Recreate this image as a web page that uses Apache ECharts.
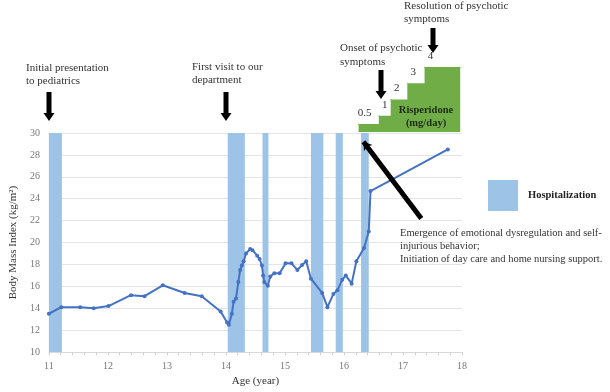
<!DOCTYPE html>
<html>
<head>
<meta charset="utf-8">
<script src="https://cdn.jsdelivr.net/npm/echarts@6/dist/echarts.min.js"></script>
<style>
html, body { margin: 0; padding: 0; background: #fff; }
#main { width: 610px; height: 392px; }
</style>
</head>
<body>
<div id="main"></div>
<script>
// BMI course (age in years, BMI kg/m2)
const ages = [11.0, 11.21, 11.53, 11.76, 12.01, 12.39, 12.62, 12.93, 13.30, 13.59,
  13.91, 14.02, 14.05, 14.10, 14.13, 14.17, 14.21, 14.24, 14.27, 14.30,
  14.34, 14.41, 14.45, 14.53, 14.57, 14.61, 14.63, 14.65, 14.71, 14.75,
  14.82, 14.91, 15.01, 15.11, 15.21, 15.29, 15.36, 15.44, 15.63, 15.72,
  15.82, 15.89, 15.97, 16.03, 16.13, 16.21, 16.34, 16.42, 16.45, 17.76];
const bmi = [13.5, 14.1, 14.1, 14.0, 14.2, 15.2, 15.1, 16.1, 15.4, 15.1,
  13.7, 12.7, 12.5, 13.5, 14.6, 14.9, 16.4, 17.5, 17.9, 18.3,
  19.0, 19.4, 19.3, 18.8, 18.5, 17.9, 17.0, 16.4, 16.05, 16.9,
  17.2, 17.2, 18.1, 18.1, 17.5, 17.95, 18.3, 16.7, 15.4, 14.1,
  15.3, 15.65, 16.6, 17.0, 16.25, 18.3, 19.5, 21.0, 24.7, 28.5];

// hospitalization periods
const hospStart = [11.0, 14.03, 14.62, 15.44, 15.86, 16.29];
const hospEnd = [11.22, 14.32, 14.72, 15.65, 15.98, 16.42];

// risperidone steps
const doseStart = [16.26, 16.6, 16.8, 17.08, 17.37];
const doseMg = [0.5, 1, 2, 3, 4];
const doseStop = 17.97;

// arrow inside the plot (from, to)
const cueFrom = [16.33, 29.2];
const cueTo = [17.31, 22.2];

const xMin = 11, xMax = 18, yMin = 10, yMax = 30;

const FONT = '"Liberation Serif", "Times New Roman", serif';
const BLUE = '#4472c4';
const HOSP = '#9dc3e6';
const GREEN = '#70ad47';

const chart = echarts.init(document.getElementById('main'));

function arrow(x, y0, y1) {
  return {
    type: 'polygon',
    shape: {points: [[x - 2.5, y0], [x + 2.5, y0], [x + 2.5, y1 - 8], [x + 5.5, y1 - 8],
      [x, y1], [x - 5.5, y1 - 8], [x - 2.5, y1 - 8]]},
    style: {fill: '#000'},
    z: 100
  };
}

function note(left, top, text, extra) {
  return {
    type: 'text', left: left, top: top, z: 100,
    style: Object.assign({text: text, font: '11px ' + FONT, fill: '#333', lineHeight: 13}, extra || {})
  };
}

const doseData = doseStart.map((a, i) => [a, doseMg[i]]);
doseData.push([doseStop, doseMg[doseMg.length - 1]]);

const option = {
  animation: false,
  grid: [
    {left: 46, right: 148, top: 133, bottom: 33, containLabel: false},
    {left: 46, right: 148, top: 67, bottom: 260, containLabel: false}
  ],
  legend: {
    data: ['Hospitalization'],
    icon: 'rect',
    left: 483, top: 175,
    itemWidth: 30, itemHeight: 31,
    selectedMode: false,
    textStyle: {fontFamily: FONT, fontWeight: 'bold', fontSize: 10.5, color: '#222', padding: [0, 0, 0, 5]}
  },
  xAxis: [
    {
      type: 'value', min: xMin, max: xMax, interval: 1, gridIndex: 0,
      name: 'Age (year)', nameLocation: 'middle', nameGap: 18,
      nameTextStyle: {fontFamily: FONT, fontSize: 11, color: '#333'},
      axisLine: {show: true, lineStyle: {color: '#d9d9d9'}},
      axisTick: {show: true, length: 3, lineStyle: {color: '#d0d0d0'}},
      minorTick: {show: true, splitNumber: 5, length: 3, lineStyle: {color: '#d0d0d0'}},
      splitLine: {show: false},
      axisLabel: {fontFamily: FONT, fontSize: 10, color: '#777', margin: 9}
    },
    {type: 'value', min: xMin, max: xMax, gridIndex: 1, show: false}
  ],
  yAxis: [
    {
      type: 'value', min: yMin, max: yMax, interval: 2, gridIndex: 0,
      name: 'Body Mass Index (kg/m²)', nameLocation: 'middle', nameGap: 26,
      nameTextStyle: {fontFamily: FONT, fontSize: 11, color: '#333'},
      axisLine: {show: false},
      axisTick: {show: false},
      splitLine: {lineStyle: {color: '#e4e4e4'}},
      axisLabel: {fontFamily: FONT, fontSize: 10, color: '#777', margin: 9}
    },
    {type: 'value', min: 0, max: 4, gridIndex: 1, show: false}
  ],
  series: [
    {
      name: 'Hospitalization',
      type: 'custom',
      xAxisIndex: 0, yAxisIndex: 0,
      data: hospStart.map((s, i) => [s, hospEnd[i]]),
      encode: {x: [0, 1]},
      itemStyle: {color: HOSP},
      silent: true,
      z: 1,
      renderItem: function (params, api) {
        const p0 = api.coord([api.value(0), yMax]);
        const p1 = api.coord([api.value(1), yMin]);
        return {
          type: 'rect',
          shape: {x: p0[0], y: p0[1], width: p1[0] - p0[0], height: p1[1] - p0[1]},
          style: {fill: HOSP}
        };
      }
    },
    {
      name: 'BMI',
      type: 'line',
      xAxisIndex: 0, yAxisIndex: 0,
      data: ages.map((a, i) => [a, bmi[i]]),
      symbol: 'circle', symbolSize: 4,
      lineStyle: {color: BLUE, width: 2},
      itemStyle: {color: BLUE},
      silent: true,
      z: 3,
      markLine: {
        silent: true,
        symbol: ['arrow', 'none'],
        symbolSize: 8,
        lineStyle: {color: '#000', width: 5, type: 'solid'},
        label: {show: false},
        data: [[{coord: cueFrom}, {coord: cueTo}]]
      }
    },
    {
      name: 'Risperidone',
      type: 'line',
      xAxisIndex: 1, yAxisIndex: 1,
      step: 'end',
      data: doseData,
      symbol: 'circle', symbolSize: 1,
      itemStyle: {color: GREEN},
      lineStyle: {width: 0},
      areaStyle: {color: GREEN, opacity: 1},
      silent: true,
      label: {
        show: true, position: 'top', offset: [6, 0],
        fontFamily: FONT, fontSize: 11, color: '#333',
        formatter: p => p.dataIndex < doseMg.length ? String(doseMg[p.dataIndex]) : ''
      }
    }
  ],
  graphic: [
    note(26, 61.5, 'Initial presentation\nto pediatrics'),
    arrow(49, 92, 121),
    note(192, 60.5, 'First visit to our\ndepartment'),
    arrow(226, 92, 121),
    note(340, 41, 'Onset of psychotic\nsymptoms', {lineHeight: 14}),
    arrow(381, 70, 99),
    note(404, 0, 'Resolution of psychotic\nsymptoms'),
    arrow(433, 28, 53),
    {
      type: 'text', x: 426, y: 103.5, z: 100,
      style: {text: 'Risperidone\n(mg/day)', font: 'bold 10.5px ' + FONT, fill: '#1f2a16', lineHeight: 13, align: 'center', verticalAlign: 'top'}
    },
    note(400, 226.5, 'Emergence of emotional dysregulation and self-\ninjurious behavior;\nInitiation of day care and home nursing support.', {font: '10.5px ' + FONT})
  ]
};

chart.setOption(option);
</script>
</body>
</html>
